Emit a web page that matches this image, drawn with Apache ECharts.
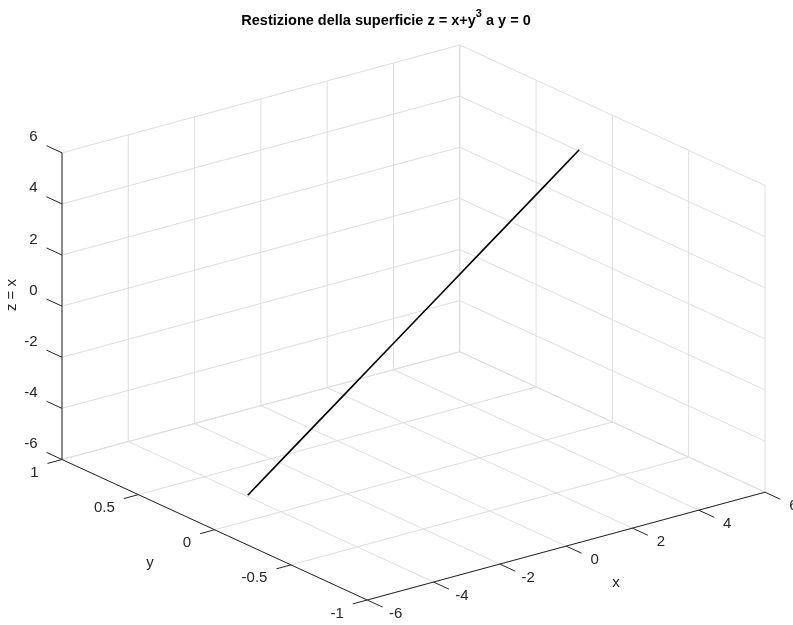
<!DOCTYPE html>
<html>
<head>
<meta charset="utf-8">
<script src="https://cdn.jsdelivr.net/npm/echarts@6/dist/echarts.min.js"></script>
<style>html,body{margin:0;padding:0;background:#fff}#chart{width:793px;height:625px}</style>
</head>
<body>
<div id="chart"></div>
<script>
// Curve: z = x + y^3 restricted to the plane y = 0
const curveX = [-5, -4, -3, -2, -1, 0, 1, 2, 3, 4, 5];
const curveY = [0, 0, 0, 0, 0, 0, 0, 0, 0, 0, 0];
const curveZ = [-5, -4, -3, -2, -1, 0, 1, 2, 3, 4, 5];

// Axis limits and ticks
const xLim = [-6, 6];
const yLim = [-1, 1];
const zLim = [-6, 6];
const xTicks = [-6, -4, -2, 0, 2, 4, 6];
const yTicks = [-1, -0.5, 0, 0.5, 1];
const zTicks = [-6, -4, -2, 0, 2, 4, 6];
const xTickLabels = ['-6', '-4', '-2', '0', '2', '4', '6'];
const yTickLabels = ['-1', '-0.5', '0', '0.5', '1'];
const zTickLabels = ['-6', '-4', '-2', '0', '2', '4', '6'];

// Camera: azimuth / elevation in degrees
const AZ = -37.5, EL = 30;
const TH = -AZ * Math.PI / 180, PH = EL * Math.PI / 180;
const FONT = '"Liberation Sans", Arial, Helvetica, sans-serif';
const AXIS_COLOR = '#262626';
const GRID_COLOR = '#dedede';
const LABEL_SIZE = 15;

function unit(v, lim) { return (v - lim[0]) / (lim[1] - lim[0]) - 0.5; }
// Orthographic projection of a data point onto the (u, v) view plane
function project(x, y, z) {
  const a = unit(x, xLim), b = unit(y, yLim), c = unit(z, zLim);
  return [
    a * Math.cos(TH) - b * Math.sin(TH),
    Math.sin(PH) * (a * Math.sin(TH) + b * Math.cos(TH)) + Math.cos(PH) * c
  ];
}
const U_MAX = 0.5 * (Math.cos(TH) + Math.sin(TH));
const V_MAX = 0.5 * Math.sin(PH) * (Math.sin(TH) + Math.cos(TH)) + 0.5 * Math.cos(PH);

const [x0, x1] = xLim, [y0, y1] = yLim, [z0, z1] = zLim;

// Grid lines on the three back panes
const gridSegs = [];
xTicks.forEach(x => gridSegs.push([[x, y1, z0], [x, y1, z1]]));
zTicks.forEach(z => gridSegs.push([[x0, y1, z], [x1, y1, z]]));
yTicks.forEach(y => gridSegs.push([[x1, y, z0], [x1, y, z1]]));
zTicks.forEach(z => gridSegs.push([[x1, y0, z], [x1, y1, z]]));
xTicks.forEach(x => gridSegs.push([[x, y0, z0], [x, y1, z0]]));
yTicks.forEach(y => gridSegs.push([[x0, y, z0], [x1, y, z0]]));

// Axis lines
const axisSegs = [
  [[x0, y1, z0], [x0, y1, z1]],
  [[x0, y0, z0], [x1, y0, z0]],
  [[x0, y0, z0], [x0, y1, z0]]
];

// Ticks: base point, a point giving the outward direction, length, label
const ticks = [];
zTicks.forEach((z, i) => ticks.push({ p: [x0, y1, z], d: [x0, y1 + 1, z], len: 17, text: zTickLabels[i], kind: 'z' }));
xTicks.forEach((x, i) => ticks.push({ p: [x, y0, z0], d: [x, y0 - 1, z0], len: 17, text: xTickLabels[i], kind: 'x' }));
yTicks.forEach((y, i) => ticks.push({ p: [x0, y, z0], d: [x0 - 1, y, z0], len: 15, text: yTickLabels[i], kind: 'y' }));

function segRenderer(list, color, width) {
  return function (params, api) {
    const s = list[params.dataIndex];
    const a = api.coord(project(...s[0]));
    const b = api.coord(project(...s[1]));
    return {
      type: 'line',
      shape: { x1: a[0], y1: a[1], x2: b[0], y2: b[1] },
      style: { stroke: color, lineWidth: width },
      silent: true
    };
  };
}

function tickRenderer(params, api) {
  const t = ticks[params.dataIndex];
  const a = api.coord(project(...t.p));
  const d = api.coord(project(...t.d));
  const dx = d[0] - a[0], dy = d[1] - a[1];
  const n = Math.hypot(dx, dy);
  const e = [a[0] + dx / n * t.len, a[1] + dy / n * t.len];
  let lx, ly, align, valign;
  if (t.kind === 'z') { lx = e[0] - 9; ly = e[1] - 1; align = 'right'; valign = 'bottom'; }
  else if (t.kind === 'x') { lx = e[0] + 13; ly = e[1] + 7; align = 'center'; valign = 'middle'; }
  else { lx = e[0] - 9; ly = e[1] + 2; align = 'right'; valign = 'top'; }
  return {
    type: 'group',
    silent: true,
    children: [
      { type: 'line', shape: { x1: a[0], y1: a[1], x2: e[0], y2: e[1] },
        style: { stroke: AXIS_COLOR, lineWidth: 1 } },
      { type: 'text', x: lx, y: ly,
        style: { text: t.text, align: align, verticalAlign: valign,
                 fill: AXIS_COLOR, fontSize: LABEL_SIZE, fontFamily: FONT } }
    ]
  };
}

const idx = n => Array.from({ length: n }, (_, i) => [i, 0]);

const chart = echarts.init(document.getElementById('chart'), null, { renderer: 'canvas' });
chart.setOption({
  backgroundColor: '#ffffff',
  animation: false,
  grid: { left: 62, top: 45, width: 703, height: 555, containLabel: false },
  xAxis: { type: 'value', min: -U_MAX, max: U_MAX, show: false },
  yAxis: { type: 'value', min: -V_MAX, max: V_MAX, show: false },
  graphic: [
    { type: 'text', x: 386, y: 21, silent: true,
      style: {
        text: '{b|Restizione della superficie z = x+y}{s|3}{b| a y = 0}',
        align: 'center', verticalAlign: 'middle',
        rich: {
          b: { fontSize: 14.5, fontWeight: 'bold', fontFamily: FONT, fill: '#000', lineHeight: 26 },
          s: { fontSize: 11, fontWeight: 'bold', fontFamily: FONT, fill: '#000', padding: [0, 0, 15, 0] }
        }
      } },
    { type: 'text', x: 616, y: 583, silent: true,
      style: { text: 'x', align: 'center', verticalAlign: 'middle', fill: AXIS_COLOR, fontSize: LABEL_SIZE, fontFamily: FONT } },
    { type: 'text', x: 150, y: 563, silent: true,
      style: { text: 'y', align: 'center', verticalAlign: 'middle', fill: AXIS_COLOR, fontSize: LABEL_SIZE, fontFamily: FONT } },
    { type: 'text', x: 12, y: 295, rotation: Math.PI / 2, silent: true,
      style: { text: 'z = x', align: 'center', verticalAlign: 'middle', fill: AXIS_COLOR, fontSize: LABEL_SIZE, fontFamily: FONT } }
  ],
  series: [
    { type: 'custom', name: 'grid', renderItem: segRenderer(gridSegs, GRID_COLOR, 1),
      data: idx(gridSegs.length), clip: false, z: 1 },
    { type: 'custom', name: 'axes', renderItem: segRenderer(axisSegs, AXIS_COLOR, 1),
      data: idx(axisSegs.length), clip: false, z: 2 },
    { type: 'custom', name: 'ticks', renderItem: tickRenderer,
      data: idx(ticks.length), clip: false, z: 2 },
    { type: 'line', name: 'curve', z: 3, symbol: 'none', silent: true,
      lineStyle: { color: '#000000', width: 1.6 },
      data: curveX.map((x, i) => project(x, curveY[i], curveZ[i])) }
  ]
});
</script>
</body>
</html>
